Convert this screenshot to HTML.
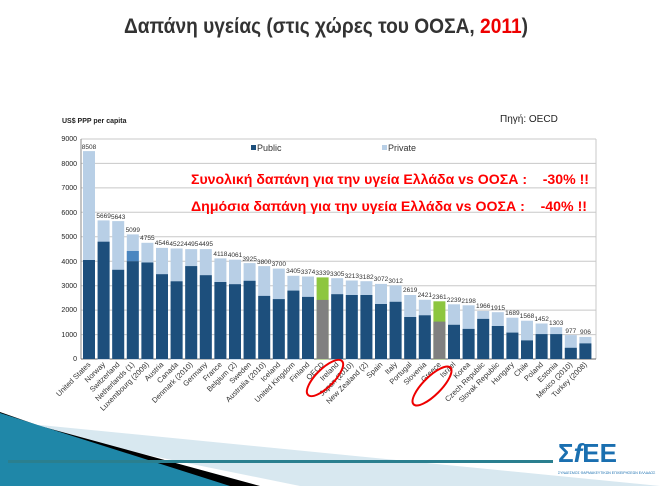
<!DOCTYPE html>
<html><head><meta charset="utf-8"><style>
html,body{margin:0;padding:0;background:#fff;}
svg{display:block;}
</style></head><body>
<svg width="660" height="486" viewBox="0 0 660 486" xmlns="http://www.w3.org/2000/svg" font-family="Liberation Sans, sans-serif">
<rect width="660" height="486" fill="#fff"/>
<!-- decorative bottom -->
<polygon points="0,425 300,486 660,486 660,486 40,425" fill="#d8e8f0"/>
<polygon points="0,412 40,426 260,486 0,486" fill="#000"/>
<polygon points="0,413 230,486 0,486" fill="#1f87a8"/>
<rect x="8" y="460" width="545" height="3" fill="#2a7f8f"/>
<!-- title -->
<text x="124" y="33" font-size="21" font-weight="bold" fill="#333" textLength="404" lengthAdjust="spacingAndGlyphs">Δαπάνη υγείας (στις χώρες του ΟΟΣΑ, <tspan fill="#e00">2011</tspan>)</text>
<text x="62" y="123" font-size="7" font-weight="bold" fill="#222">US$ PPP per capita</text>
<text x="500" y="122" font-size="10" fill="#222">Πηγή: OECD</text>
<!-- frame & grid -->
<g stroke="#c8c8c8" stroke-width="1">
<line x1="81" y1="139" x2="596" y2="139"/><line x1="81" y1="163.4" x2="596" y2="163.4"/><line x1="81" y1="187.9" x2="596" y2="187.9"/><line x1="81" y1="212.3" x2="596" y2="212.3"/><line x1="81" y1="236.8" x2="596" y2="236.8"/><line x1="81" y1="261.2" x2="596" y2="261.2"/><line x1="81" y1="285.7" x2="596" y2="285.7"/><line x1="81" y1="310.1" x2="596" y2="310.1"/><line x1="81" y1="334.6" x2="596" y2="334.6"/>
<line x1="596" y1="139" x2="596" y2="359"/>
</g>
<line x1="81" y1="139" x2="81" y2="359" stroke="#888"/>
<line x1="81" y1="359" x2="596" y2="359" stroke="#666"/>
<g font-size="7" fill="#222" text-anchor="end">
<text x="77" y="141">9000</text><text x="77" y="166">8000</text><text x="77" y="190">7000</text><text x="77" y="215">6000</text><text x="77" y="239">5000</text><text x="77" y="264">4000</text><text x="77" y="288">3000</text><text x="77" y="312">2000</text><text x="77" y="337">1000</text><text x="77" y="361">0</text>
</g>
<!-- legend -->
<rect x="251" y="145" width="5" height="5" fill="#1d4f7c"/><text x="257" y="151" font-size="9" fill="#333">Public</text>
<rect x="382" y="145" width="5" height="5" fill="#b8cfe6"/><text x="388" y="151" font-size="9" fill="#333">Private</text>
<!-- bars: private (total) -->
<g fill="#b8cfe6">
<rect x="83" y="151.1" width="12" height="208"/><rect x="97.6" y="220.4" width="12" height="139"/><rect x="112.2" y="221.1" width="12" height="138"/><rect x="126.8" y="234.4" width="12" height="125"/><rect x="141.4" y="242.8" width="12" height="117"/><rect x="156" y="247.9" width="12" height="112"/><rect x="170.6" y="248.5" width="12" height="111"/><rect x="185.2" y="249.1" width="12" height="110"/><rect x="199.8" y="249.1" width="12" height="110"/><rect x="214.4" y="258.4" width="12" height="101"/><rect x="229" y="259.7" width="12" height="100"/><rect x="243.6" y="263.1" width="12" height="96"/><rect x="258.2" y="266.1" width="12" height="93"/><rect x="272.8" y="268.6" width="12" height="91"/><rect x="287.4" y="275.8" width="12" height="84"/><rect x="302" y="276.5" width="12" height="83"/>
<rect x="331.2" y="278.2" width="12" height="81"/><rect x="345.8" y="280.5" width="12" height="79"/><rect x="360.4" y="281.2" width="12" height="78"/><rect x="375" y="283.9" width="12" height="76"/><rect x="389.6" y="285.4" width="12" height="74"/><rect x="404.2" y="295" width="12" height="64"/><rect x="418.8" y="299.8" width="12" height="60"/>
<rect x="448" y="304.3" width="12" height="55"/><rect x="462.6" y="305.3" width="12" height="54"/><rect x="477.2" y="311" width="12" height="48"/><rect x="491.8" y="312.2" width="12" height="47"/><rect x="506.4" y="317.7" width="12" height="42"/><rect x="521" y="320.7" width="12" height="39"/><rect x="535.6" y="323.5" width="12" height="36"/><rect x="550.2" y="327.2" width="12" height="32"/><rect x="564.8" y="335.1" width="12" height="24"/><rect x="579.4" y="336.9" width="12" height="22"/>
</g>
<rect x="316.6" y="277.4" width="12" height="82" fill="#8dc63f"/>
<rect x="433.4" y="301.3" width="12" height="58" fill="#8dc63f"/>
<rect x="126.8" y="251" width="12" height="10.2" fill="#4a86c0"/>
<g fill="#1d4f7c">
<rect x="83" y="260" width="12" height="99"/><rect x="97.6" y="241.7" width="12" height="117.3"/><rect x="112.2" y="269.8" width="12" height="89.2"/><rect x="126.8" y="261.2" width="12" height="97.8"/><rect x="141.4" y="262.5" width="12" height="96.5"/><rect x="156" y="274.2" width="12" height="84.8"/><rect x="170.6" y="281.3" width="12" height="77.7"/><rect x="185.2" y="266.1" width="12" height="92.9"/><rect x="199.8" y="275.2" width="12" height="83.8"/><rect x="214.4" y="282" width="12" height="77"/><rect x="229" y="284.2" width="12" height="74.8"/><rect x="243.6" y="280.8" width="12" height="78.2"/><rect x="258.2" y="295.9" width="12" height="63.1"/><rect x="272.8" y="299.1" width="12" height="59.9"/><rect x="287.4" y="290.6" width="12" height="68.4"/><rect x="302" y="296.9" width="12" height="62.1"/>
<rect x="331.2" y="294.2" width="12" height="64.8"/><rect x="345.8" y="295" width="12" height="64"/><rect x="360.4" y="295" width="12" height="64"/><rect x="375" y="304" width="12" height="55"/><rect x="389.6" y="301.8" width="12" height="57.2"/><rect x="404.2" y="317" width="12" height="42"/><rect x="418.8" y="315.3" width="12" height="43.7"/>
<rect x="448" y="324.8" width="12" height="34.2"/><rect x="462.6" y="328.9" width="12" height="30.1"/><rect x="477.2" y="318.9" width="12" height="40.1"/><rect x="491.8" y="326" width="12" height="33"/><rect x="506.4" y="332.6" width="12" height="26.4"/><rect x="521" y="340.4" width="12" height="18.6"/><rect x="535.6" y="334.1" width="12" height="24.9"/><rect x="550.2" y="334.1" width="12" height="24.9"/><rect x="564.8" y="347.8" width="12" height="11.2"/><rect x="579.4" y="343.4" width="12" height="15.6"/>
</g>
<rect x="316.6" y="299.9" width="12" height="59.1" fill="#808080"/>
<rect x="433.4" y="321.6" width="12" height="37.4" fill="#808080"/>
<!-- value labels -->
<g font-size="6.5" fill="#333" text-anchor="middle">
<text x="89" y="149">8508</text><text x="103.6" y="218">5669</text><text x="118.2" y="219">5643</text><text x="132.8" y="232">5099</text><text x="147.4" y="240">4755</text><text x="162" y="245">4546</text><text x="176.6" y="246">4522</text><text x="191.2" y="246">4495</text><text x="205.8" y="246">4495</text><text x="220.4" y="256">4118</text><text x="235" y="257">4061</text><text x="249.6" y="261">3925</text><text x="264.2" y="264">3800</text><text x="278.8" y="266">3700</text><text x="293.4" y="273">3405</text><text x="308" y="274">3374</text><text x="322.6" y="275">3339</text><text x="337.2" y="276">3305</text><text x="351.8" y="278">3213</text><text x="366.4" y="279">3182</text><text x="381" y="281">3072</text><text x="395.6" y="283">3012</text><text x="410.2" y="292">2619</text><text x="424.8" y="297">2421</text><text x="439.4" y="299">2361</text><text x="454" y="302">2239</text><text x="468.6" y="303">2198</text><text x="483.2" y="308">1966</text><text x="497.8" y="310">1915</text><text x="512.4" y="315">1689</text><text x="527" y="318">1568</text><text x="541.6" y="321">1452</text><text x="556.2" y="325">1303</text><text x="570.8" y="333">977</text><text x="585.4" y="334">906</text>
</g>
<!-- category labels -->
<g font-size="7.5" fill="#333" text-anchor="end">
<text transform="translate(91,365) rotate(-45)">United States</text>
<text transform="translate(105.6,365) rotate(-45)">Norway</text>
<text transform="translate(120.2,365) rotate(-45)">Switzerland</text>
<text transform="translate(134.8,365) rotate(-45)">Netherlands (1)</text>
<text transform="translate(149.4,365) rotate(-45)">Luxembourg (2009)</text>
<text transform="translate(164,365) rotate(-45)">Austria</text>
<text transform="translate(178.6,365) rotate(-45)">Canada</text>
<text transform="translate(193.2,365) rotate(-45)">Denmark (2010)</text>
<text transform="translate(207.8,365) rotate(-45)">Germany</text>
<text transform="translate(222.4,365) rotate(-45)">France</text>
<text transform="translate(237,365) rotate(-45)">Belgium (2)</text>
<text transform="translate(251.6,365) rotate(-45)">Sweden</text>
<text transform="translate(266.2,365) rotate(-45)">Australia (2010)</text>
<text transform="translate(280.8,365) rotate(-45)">Iceland</text>
<text transform="translate(295.4,365) rotate(-45)">United Kingdom</text>
<text transform="translate(310,365) rotate(-45)">Finland</text>
<text transform="translate(324.6,365) rotate(-45)">OECD</text>
<text transform="translate(339.2,365) rotate(-45)">Ireland</text>
<text transform="translate(353.8,365) rotate(-45)">Japan (2010)</text>
<text transform="translate(368.4,365) rotate(-45)">New Zealand (2)</text>
<text transform="translate(383,365) rotate(-45)">Spain</text>
<text transform="translate(397.6,365) rotate(-45)">Italy</text>
<text transform="translate(412.2,365) rotate(-45)">Portugal</text>
<text transform="translate(426.8,365) rotate(-45)">Slovenia</text>
<text transform="translate(441.4,365) rotate(-45)">Greece</text>
<text transform="translate(456,365) rotate(-45)">Israel</text>
<text transform="translate(470.6,365) rotate(-45)">Korea</text>
<text transform="translate(485.2,365) rotate(-45)">Czech Republic</text>
<text transform="translate(499.8,365) rotate(-45)">Slovak Republic</text>
<text transform="translate(514.4,365) rotate(-45)">Hungary</text>
<text transform="translate(529,365) rotate(-45)">Chile</text>
<text transform="translate(543.6,365) rotate(-45)">Poland</text>
<text transform="translate(558.2,365) rotate(-45)">Estonia</text>
<text transform="translate(572.8,365) rotate(-45)">Mexico (2010)</text>
<text transform="translate(587.4,365) rotate(-45)">Turkey (2008)</text>
</g>
<!-- red ellipses -->
<ellipse cx="325" cy="378" rx="24" ry="9" transform="rotate(-45 325 378)" fill="none" stroke="#e00" stroke-width="2"/>
<ellipse cx="432" cy="386" rx="26" ry="9" transform="rotate(-45 432 386)" fill="none" stroke="#e00" stroke-width="2"/>
<!-- red annotations -->
<text x="191" y="184" font-size="13.5" font-weight="bold" fill="#f00" xml:space="preserve" style="white-space:pre" textLength="398" lengthAdjust="spacingAndGlyphs">Συνολική δαπάνη για την υγεία Ελλάδα vs ΟΟΣΑ :    -30% !!</text>
<text x="191" y="211" font-size="13.5" font-weight="bold" fill="#f00" xml:space="preserve" style="white-space:pre" textLength="396" lengthAdjust="spacingAndGlyphs">Δημόσια δαπάνη για την υγεία Ελλάδα vs ΟΟΣΑ :    -40% !!</text>
<!-- logo -->
<text x="558" y="462" font-size="26" font-weight="bold" fill="#1a6fb0">Σ<tspan font-style="italic">f</tspan>EE</text>
<text x="558" y="474" font-size="3.5" fill="#1a6fb0">ΣΥΝΔΕΣΜΟΣ ΦΑΡΜΑΚΕΥΤΙΚΩΝ ΕΠΙΧΕΙΡΗΣΕΩΝ ΕΛΛΑΔΟΣ</text>
</svg>
</body></html>
